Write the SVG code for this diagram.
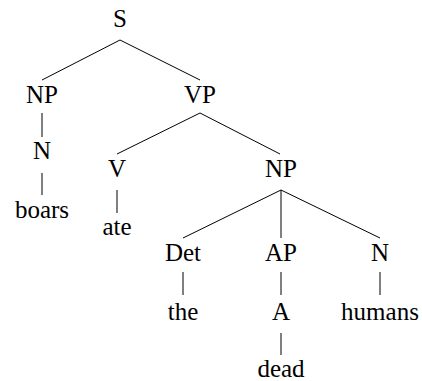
<svg xmlns="http://www.w3.org/2000/svg" width="422" height="381" viewBox="0 0 422 381">
<defs>
<style type="text/css">
.e line { stroke: #000; stroke-width: 1; }
</style>
</defs>
<rect width="422" height="381" fill="#fff"/>
<g class="e" id="edges">
<line x1="120" y1="40" x2="42" y2="80"/>
<line x1="120" y1="40" x2="200" y2="80"/>
<line x1="42" y1="113" x2="42" y2="137"/>
<line x1="42" y1="173" x2="42" y2="195"/>
<line x1="200" y1="113" x2="117" y2="154"/>
<line x1="200" y1="113" x2="280" y2="154"/>
<line x1="117" y1="190" x2="117" y2="213"/>
<line x1="281" y1="190" x2="183" y2="238"/>
<line x1="281" y1="190" x2="281" y2="238"/>
<line x1="281" y1="190" x2="380" y2="238"/>
<line x1="183" y1="272" x2="183" y2="295"/>
<line x1="281" y1="272" x2="281" y2="295"/>
<line x1="380" y1="272" x2="380" y2="295"/>
<line x1="281" y1="333" x2="281" y2="355"/>
</g>
<g font-family="Liberation Serif" font-size="25" fill="#000" text-anchor="middle">
<g id="S"><text x="120" y="27">S</text></g>
<g id="NP1"><text x="42" y="103">NP</text></g>
<g id="VP"><text x="200" y="103">VP</text></g>
<g id="N1"><text x="42" y="159">N</text></g>
<g id="boars"><text x="42" y="218">boars</text></g>
<g id="V"><text x="117" y="177">V</text></g>
<g id="ate"><text x="117" y="235">ate</text></g>
<g id="NP2"><text x="281" y="177">NP</text></g>
<g id="Det"><text x="183" y="261">Det</text></g>
<g id="AP"><text x="281" y="261">AP</text></g>
<g id="N2"><text x="380" y="261">N</text></g>
<g id="the"><text x="183" y="320">the</text></g>
<g id="A"><text x="281" y="320">A</text></g>
<g id="humans"><text x="380" y="320">humans</text></g>
<g id="dead"><text x="281" y="377">dead</text></g>
</g>
</svg>
